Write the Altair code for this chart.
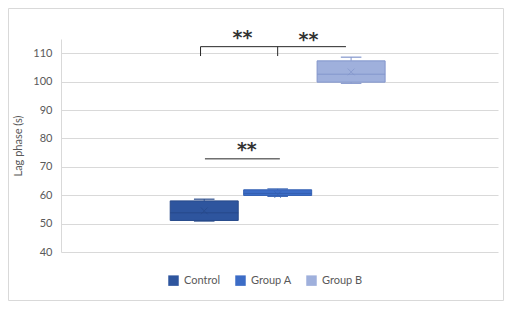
import altair as alt
import pandas as pd

# ---- data ----
groups = ["Control", "Group A", "Group B"]
positions = [1, 2, 3]
whisker_low = [50.9, 59.6, 99.4]
q1 = [51.1, 59.9, 99.8]
median = [53.8, 60.6, 102.6]
q3 = [58.0, 61.9, 107.3]
whisker_high = [58.6, 62.2, 108.6]
means = [54.5, 60.2, 103.4]

fill_colors = ["#2E559E", "#3C6CC6", "#9FB0DC"]
line_colors = ["#27498A", "#3460B2", "#8396CC"]

# significance annotations
line_x = [0.95, 0.95, 2.0, 1.01]
line_x2 = [2.93, 0.95, 2.0, 2.03]
line_y = [112.3, 109.0, 109.0, 72.8]
line_y2 = [112.3, 112.3, 112.3, 72.8]
star_x = [1.52, 2.42, 1.58]
star_y = [115.2, 114.5, 75.9]
star_text = ["**", "**", "**"]

y_ticks = [40, 50, 60, 70, 80, 90, 100, 110]

df = pd.DataFrame({
    "group": groups, "pos": positions, "wlo": whisker_low, "q1": q1,
    "med": median, "q3": q3, "whi": whisker_high, "mean": means,
})
lines = pd.DataFrame({"x": line_x, "x2": line_x2, "y": line_y, "y2": line_y2})
stars = pd.DataFrame({"x": star_x, "y": star_y, "t": star_text})

FONT = "Lato"
GREY = "#595959"

xscale = alt.Scale(domain=[-0.95, 5.0], nice=False, zero=False)
yscale = alt.Scale(domain=[40, 115], nice=False, zero=False)
color_scale = alt.Scale(domain=groups, range=fill_colors)
line_scale = alt.Scale(domain=groups, range=line_colors)

yaxis = alt.Axis(
    values=y_ticks, labelOverlap=False,
    title="Lag phase (s)", grid=True, gridColor="#D9D9D9",
    domainColor="#D9D9D9", ticks=False, labelPadding=9,
    labelColor=GREY, labelFontSize=11, labelFont=FONT,
    titleColor=GREY, titleFontSize=11, titleFont=FONT,
    titleFontWeight="normal", titlePadding=9,
)

base = alt.Chart(df).transform_calculate(
    xl="datum.pos - 0.463", xr="datum.pos + 0.463",
    cl="datum.pos - 0.14", cr="datum.pos + 0.14",
)

X = lambda f: alt.X(f, type="quantitative", scale=xscale, axis=None)
Y = lambda f: alt.Y(f, type="quantitative", scale=yscale, axis=yaxis)

# outer frame (decoration)
frame = alt.Chart(pd.DataFrame({"a": [0]})).mark_rect(
    filled=False, stroke="#D9D9D9", strokeWidth=1
).encode(
    x=alt.value(-52.5), x2=alt.value(442.5),
    y=alt.value(-30.5), y2=alt.value(261.5),
)

whisk_lo = base.mark_rule(strokeWidth=1).encode(
    x=X("pos"), y=Y("wlo"), y2="q1:Q",
    color=alt.Color("group:N", scale=line_scale, legend=None),
)
whisk_hi = base.mark_rule(strokeWidth=1).encode(
    x=X("pos"), y=Y("q3"), y2="whi:Q",
    color=alt.Color("group:N", scale=line_scale, legend=None),
)
cap_lo = base.mark_rule(strokeWidth=1.2).encode(
    x=X("cl:Q"), x2="cr:Q", y=Y("wlo"),
    color=alt.Color("group:N", scale=line_scale, legend=None),
)
cap_hi = base.mark_rule(strokeWidth=1.2).encode(
    x=X("cl:Q"), x2="cr:Q", y=Y("whi"),
    color=alt.Color("group:N", scale=line_scale, legend=None),
)

boxes = base.mark_rect(strokeWidth=1).encode(
    x=X("xl:Q"), x2="xr:Q",
    y=Y("q1"), y2="q3:Q",
    fill=alt.Fill("group:N", scale=color_scale, legend=alt.Legend(
        title=None, orient="none", legendX=107, legendY=236,
        direction="horizontal", symbolType="square", symbolSize=110,
        symbolStrokeWidth=0, labelFontSize=11, labelFont=FONT,
        labelColor=GREY, columnPadding=14, labelOffset=5,
    )),
    stroke=alt.Stroke("group:N", scale=line_scale, legend=None),
)

med_line = base.mark_rule(strokeWidth=1).encode(
    x=X("xl:Q"), x2="xr:Q", y=Y("med"),
    color=alt.Color("group:N", scale=line_scale, legend=None),
)

mean_mark = base.mark_point(
    shape="M-1,-1L1,1M-1,1L1,-1", size=45, strokeWidth=1, filled=False
).encode(
    x=X("pos"), y=Y("mean"),
    color=alt.Color("group:N", scale=line_scale, legend=None),
)

sig_lines = alt.Chart(lines).mark_rule(color="#262626", strokeWidth=1).encode(
    x=X("x:Q"), x2="x2:Q", y=Y("y"), y2="y2:Q",
)
sig_text = alt.Chart(stars).mark_text(
    fontSize=19, color="#333333", font="DejaVu Sans", baseline="middle",
    fontWeight="bold",
).encode(
    x=X("x:Q"), y=Y("y"), text="t:N",
)

chart = alt.layer(
    frame, whisk_lo, whisk_hi, cap_lo, cap_hi, boxes, med_line,
    mean_mark, sig_lines, sig_text,
).resolve_scale(color="independent").properties(
    width=437, height=213, background="white",
    autosize=alt.AutoSizeParams(type="none"),
    padding={"left": 53, "top": 31, "right": 6, "bottom": 49},
).configure_view(stroke="transparent", strokeWidth=0)

chart.save("out.html", embed_options={"renderer": "svg", "actions": False})
